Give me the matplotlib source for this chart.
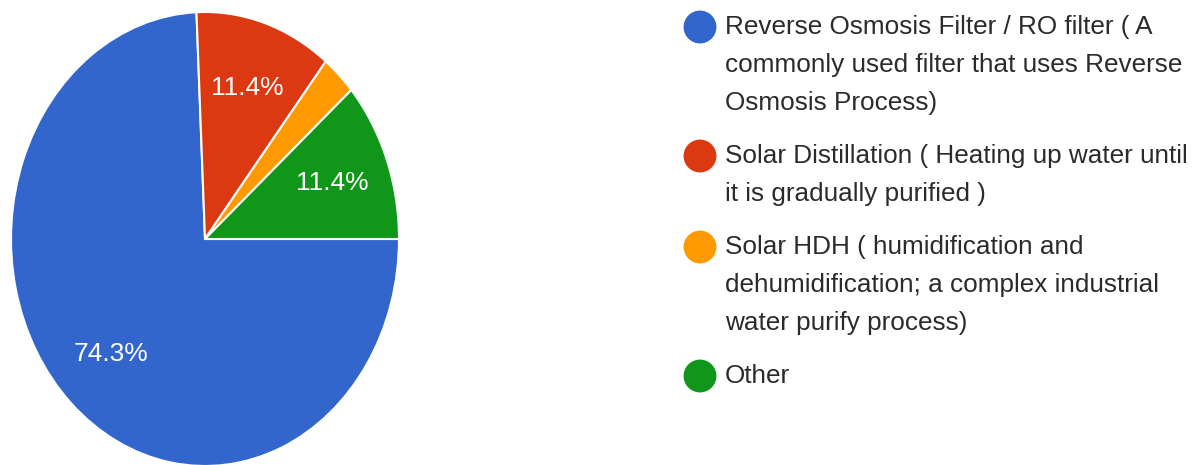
import matplotlib

matplotlib.use("Agg")
import matplotlib.pyplot as plt

# Survey answers: which purification method
labels = [
    ["Reverse Osmosis Filter / RO filter ( A",
     "commonly used filter that uses Reverse",
     "Osmosis Process)"],
    ["Solar Distillation ( Heating up water until",
     "it is gradually purified )"],
    ["Solar HDH ( humidification and",
     "dehumidification; a complex industrial",
     "water purify process)"],
    ["Other"],
]
shares = [74.3, 11.4, 2.9, 11.4]
colors = ["#3366cc", "#dc3912", "#ff9900", "#109618"]

FONT = ["Liberation Sans", "DejaVu Sans"]
W, H = 1193, 465


def pct_label(p):
    return "%.1f%%" % p if p >= 5 else ""


def main():
    fig = plt.figure(figsize=(W / 100, H / 100), dpi=100)

    # pie axes, slightly taller than wide
    cx, cy, rx, ry = 205, 239, 194, 227
    ax = fig.add_axes([(cx - rx) / W, (H - cy - ry) / H, 2 * rx / W, 2 * ry / H])
    ax.pie(
        shares, colors=colors, startangle=0, counterclock=False,
        autopct=pct_label, pctdistance=0.70,
        wedgeprops=dict(edgecolor="white", linewidth=1.5),
        textprops=dict(color="white", fontsize=19, family=FONT),
    )
    ax.set_aspect("auto")
    ax.set_xlim(-1, 1)
    ax.set_ylim(-1, 1)
    ax.axis("off")

    # legend drawn in pixel coordinates
    lax = fig.add_axes([0, 0, 1, 1])
    lax.set_xlim(0, W)
    lax.set_ylim(H, 0)
    lax.axis("off")
    line_h = 38
    gap = 15
    y = 27
    for lines, col in zip(labels, colors):
        lax.scatter([700], [y], s=560, color=col, edgecolors="none")
        for i, line in enumerate(lines):
            lax.text(725, y + i * line_h, line, fontsize=18.8, family=FONT,
                     color="#2b2b2b", va="center", ha="left")
        y += len(lines) * line_h + gap

    fig.savefig("out.png", dpi=100, facecolor="white")


if __name__ == "__main__":
    main()
